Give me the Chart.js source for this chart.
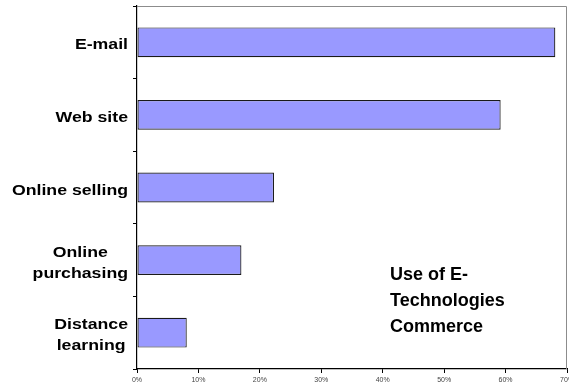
<!DOCTYPE html>
<html>
<head>
<meta charset="utf-8">
<script src="https://cdn.jsdelivr.net/npm/chart.js@4"></script>
<style>
  html, body { margin: 0; padding: 0; background: #ffffff; }
  #wrap { width: 569px; height: 383px; }
</style>
</head>
<body>
<div id="wrap"><canvas id="chart" width="569" height="383"></canvas></div>
<script>
// Categories, top to bottom (multi-line names as arrays)
const categories = ['E-mail', 'Web site', 'Online selling', ['Online', 'purchasing'], ['Distance', 'learning']];
// Share of respondents using each technology (%)
const shares = [68.1, 59.2, 22.3, 17.0, 8.1];
// Value axis range and step (%)
const axisMin = 0;
const axisMax = 70;
const axisStep = 10;
// Caption lines
const captionLines = ['Use of E-', 'Technologies', 'Commerce'];

const LABEL_FONT = 'bold 15px "Liberation Sans", Arial, sans-serif';
const CAPTION_FONT = 'bold 18px "Liberation Sans", Arial, sans-serif';

// Category names: right-aligned block, lines centred within the block
const categoryLabels = {
  id: 'categoryLabels',
  afterDraw(chart) {
    const ctx = chart.ctx;
    const yScale = chart.scales.y;
    const right = chart.chartArea.left - 9;
    const stretch = 1.18;
    const lineH = 21;
    ctx.save();
    ctx.font = LABEL_FONT;
    ctx.fillStyle = '#000000';
    ctx.textBaseline = 'middle';
    ctx.textAlign = 'center';
    categories.forEach((cat, i) => {
      const lines = Array.isArray(cat) ? cat : [cat];
      const maxW = Math.max(...lines.map(l => ctx.measureText(l).width)) * stretch;
      const cx = right - maxW / 2;
      const cy = yScale.getPixelForValue(i);
      lines.forEach((line, j) => {
        const ly = cy + (j - (lines.length - 1) / 2) * lineH + 3;
        ctx.save();
        ctx.translate(cx, ly);
        ctx.scale(stretch, 1);
        ctx.fillText(line, 0, 0);
        ctx.restore();
      });
    });
    ctx.restore();
  }
};

// Light frame on the top and right of the plot area, plus caption
const frameAndCaption = {
  id: 'frameAndCaption',
  afterDraw(chart) {
    const ctx = chart.ctx;
    const a = chart.chartArea;
    ctx.save();
    ctx.strokeStyle = '#8c8c8c';
    ctx.lineWidth = 1;
    ctx.beginPath();
    ctx.moveTo(a.left, a.top + 0.5);
    ctx.lineTo(a.right - 0.5, a.top + 0.5);
    ctx.lineTo(a.right - 0.5, a.bottom);
    ctx.stroke();

    ctx.font = CAPTION_FONT;
    ctx.fillStyle = '#000000';
    ctx.textAlign = 'left';
    ctx.textBaseline = 'alphabetic';
    const x = chart.scales.x.getPixelForValue(41.2);
    captionLines.forEach((line, i) => {
      ctx.fillText(line, x, 280 + i * 26);
    });
    ctx.restore();
  }
};

new Chart(document.getElementById('chart'), {
  type: 'bar',
  data: {
    labels: categories,
    datasets: [{
      data: shares,
      backgroundColor: '#9999ff',
      borderColor: '#1a1a1a',
      borderWidth: 1.2,
      borderSkipped: false,
      barPercentage: 0.41,
      categoryPercentage: 1
    }]
  },
  options: {
    indexAxis: 'y',
    responsive: false,
    animation: false,
    events: [],
    layout: { padding: { top: 6, right: 2, left: 0, bottom: 0 } },
    plugins: {
      legend: { display: false },
      tooltip: { enabled: false }
    },
    scales: {
      x: {
        min: axisMin,
        max: axisMax,
        border: { display: true, color: '#000000', width: 1.2 },
        grid: { drawOnChartArea: false, drawTicks: true, tickLength: 4, color: '#000000', lineWidth: 1 },
        ticks: {
          stepSize: axisStep,
          padding: 3,
          color: '#444444',
          font: { family: '"Liberation Sans", Arial, sans-serif', size: 7 },
          maxRotation: 0,
          autoSkip: false,
          callback: v => v + '%'
        },
        afterFit(scale) {
          scale.height = 14;
          scale.paddingLeft = 0;
          scale.paddingRight = 0;
        }
      },
      y: {
        border: { display: true, color: '#000000', width: 1.2 },
        grid: { drawOnChartArea: false, drawTicks: true, tickLength: 4, color: '#000000', lineWidth: 1, offset: true },
        ticks: { display: false },
        afterFit(scale) {
          scale.width = 137;
          scale.paddingTop = 0;
          scale.paddingBottom = 0;
        }
      }
    }
  },
  plugins: [categoryLabels, frameAndCaption]
});
</script>
</body>
</html>
